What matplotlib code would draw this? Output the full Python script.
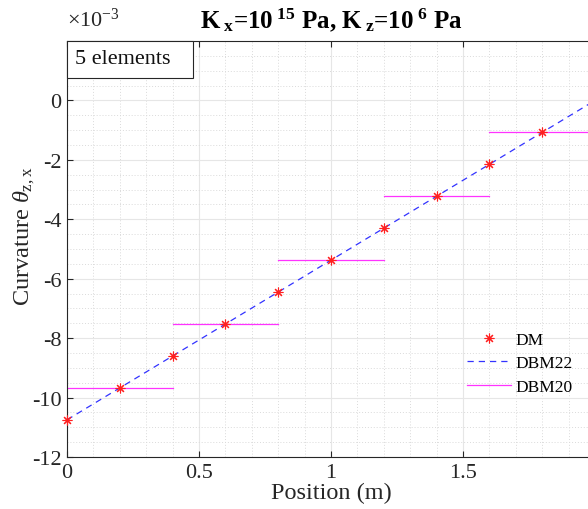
import numpy as np
import matplotlib.pyplot as plt
from matplotlib.patches import Rectangle
from matplotlib.ticker import MultipleLocator

plt.rcParams['font.family'] = ['Liberation Serif', 'DejaVu Serif']
plt.rcParams['mathtext.fontset'] = 'custom'
plt.rcParams['mathtext.rm'] = 'Liberation Serif'
plt.rcParams['mathtext.it'] = 'Liberation Serif:italic'
plt.rcParams['mathtext.bf'] = 'Liberation Serif:bold'

# 节点曲率 (DM)
x_dm = [0.0, 0.2, 0.4, 0.6, 0.8, 1.0, 1.2, 1.4, 1.6, 1.8, 2.0]
k_dm = [-10.75, -9.67, -8.60, -7.52, -6.45, -5.37, -4.30, -3.22, -2.15, -1.07, 0.0]

# DBM22 线性分布
x_22 = [0.0, 2.0]
k_22 = [-10.75, 0.0]

# DBM20 每个单元常数曲率
elem_edges = [0.0, 0.4, 0.8, 1.2, 1.6, 2.0]
k_20 = [-9.67, -7.52, -5.37, -3.22, -1.07]

xticks = [0, 0.5, 1, 1.5]
xticklabels = ['0', '0.5', '1', '1.5']
yticks = [-12, -10, -8, -6, -4, -2, 0]

fig = plt.figure(figsize=(5.88, 5.10), dpi=100)
ax = fig.add_axes([67/588, 52/510, 528/588, 416/510])

ax.plot(x_dm, np.array(k_dm)*1e-3, linestyle='none', marker=(8, 2, 0),
        color='#ff2020', markersize=7, markeredgewidth=0.8, label='DM',
        zorder=4, clip_on=False)
ax.plot(x_22, np.array(k_22)*1e-3, '--', color='#3333ff', lw=0.9,
        dashes=(5, 4), label='DBM22', zorder=3)
for i, k in enumerate(k_20):
    ax.plot(elem_edges[i:i+2], [k*1e-3, k*1e-3], '-', color='#ff33ff', lw=0.9,
            label='DBM20' if i == 0 else None, zorder=2)

ax.set_xlim(0, 2)
ax.set_ylim(-12e-3, 2e-3)
ax.xaxis.set_minor_locator(MultipleLocator(0.1))
ax.yaxis.set_minor_locator(MultipleLocator(0.5e-3))
ax.set_xticks(xticks)
ax.set_xticklabels(xticklabels)
ax.set_yticks(np.array(yticks)*1e-3)
ax.set_yticklabels([str(v) for v in yticks])

ax.grid(which='major', color='#e6e6e6', lw=0.8, ls='-')
ax.grid(which='minor', color='#dadada', lw=0.7, ls=(0, (1, 2)))
ax.set_axisbelow(True)
ax.tick_params(which='both', direction='in', top=True, right=True,
               labelsize=16, colors='#262626', length=4, pad=4)
ax.tick_params(which='minor', length=0)
for s in ax.spines.values():
    s.set_color('#262626')
    s.set_linewidth(0.8)

ax.set_xlabel('Position (m)', fontsize=17.5, color='#262626', labelpad=0)
ax.set_ylabel(r'Curvature $\theta_{\rm z,x}$', fontsize=17.5, color='#262626')
ax.yaxis.set_label_coords(-0.057, 0.534)
ax.set_title(r'K$_{\mathbf{\ x}}$=10$^{\mathbf{\ 15}}$ Pa, K$_{\mathbf{\ z}}$=10$^{\mathbf{\ 6}}$ Pa',
             fontsize=18, fontweight='bold', color='#000000', pad=10)
ax.text(0.0, 1.025, r'$\times$10$^{-3}$', transform=ax.transAxes, fontsize=16,
        color='#262626', ha='left', va='bottom')

# 单元数说明框
ax.add_patch(Rectangle((0, 1 - 37/416), 126/528, 37/416, transform=ax.transAxes,
                       fc='white', ec='#262626', lw=0.8, zorder=6, clip_on=False))
ax.text(8/528, 1 - 18/416, '5 elements', transform=ax.transAxes, fontsize=16,
        ha='left', va='center', zorder=7, color='#111111')

ax.legend(loc='upper left', bbox_to_anchor=(0.745, 0.318), frameon=False,
          fontsize=12.5, handlelength=2.5, handletextpad=0.25, labelspacing=0.42,
          borderaxespad=0)

fig.savefig('out.png', dpi=100)
